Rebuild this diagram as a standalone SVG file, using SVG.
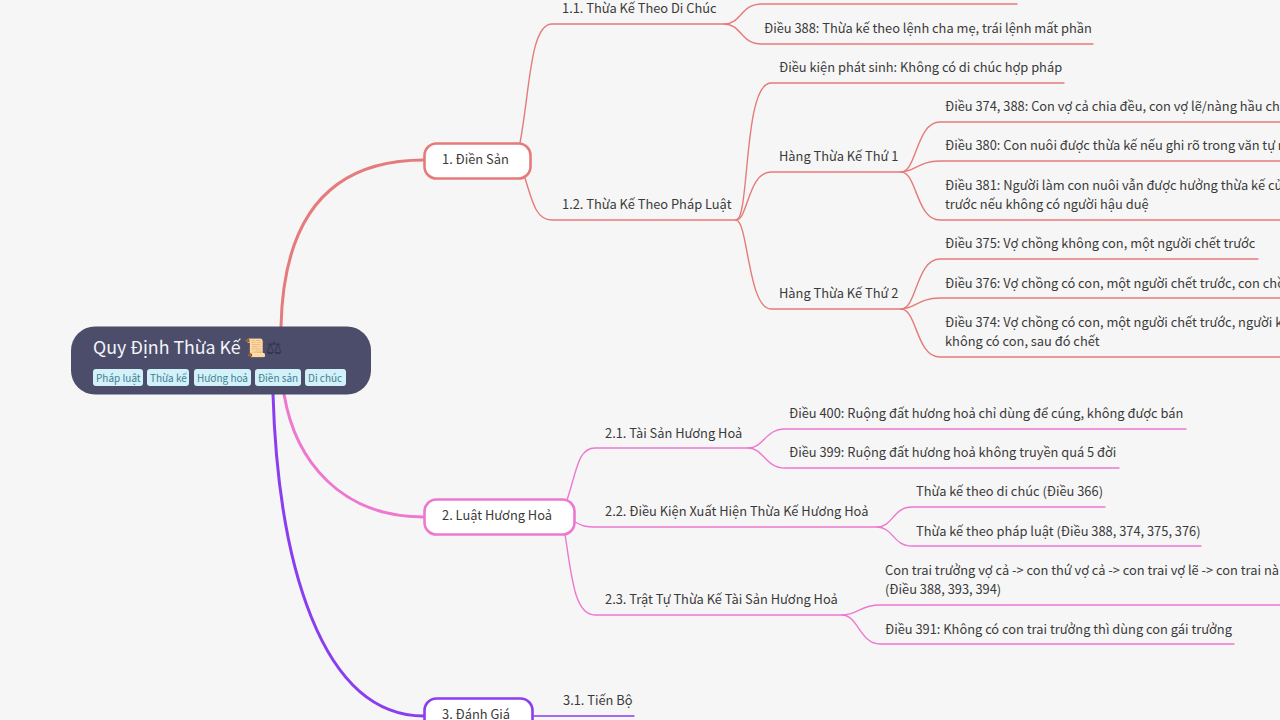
<svg xmlns="http://www.w3.org/2000/svg" width="1280" height="720" viewBox="0 0 1280 720">
<style>
text{font-family:"Noto Sans CJK SC","Noto Sans",sans-serif;font-size:12.85px;fill:#3a3a3a}
.c{fill:none;stroke-linecap:round}
.r{stroke:#e57b7b}.p{stroke:#ee78d0}.v{stroke:#8b3df0}
.t{stroke-width:3}.b{stroke-width:1.4}
.n{fill:#fff;stroke-width:2.600}
.tag{fill:#d3f1f8}
.tt{font-size:10px;fill:#3f7f95}
</style>
<rect width="1280" height="720" fill="#f6f6f6"/>
<g id="connectors">
<path class="c r t" d="M281 327C283 230 320 160 424 160"/>
<path class="c p t" d="M284 394C295 460 340 517 424 517"/>
<path class="c v t" d="M273 394C278 560 320 716 424 716"/>
<g class="c r b">
<path d="M520 143C530 90 530 24 552 24H724C742 24 740 4 762 4H1017"/>
<path d="M724 24C742 24 740 44 762 44H1093"/>
<path d="M525 178C533 205 537 220 552 220H736C750 220 743 83 771 83H1064"/>
<path d="M736 220C748 220 748 172 771 172H901"/>
<path d="M736 220C748 220 748 309 771 309H901"/>
<path d="M901 172C917 172 916 122 940 122H1280"/>
<path d="M901 172C915 172 918 161 940 161H1280"/>
<path d="M901 172C917 172 916 220 940 220H1280"/>
<path d="M901 309C917 309 916 259 940 259H1258"/>
<path d="M901 309C915 309 918 298 940 298H1280"/>
<path d="M901 309C917 309 916 357 940 357H1280"/>
</g>
<g class="c p b">
<path d="M567 500C577 470 578 448 595 448H748C764 448 765 429 785 429H1186"/>
<path d="M748 448C764 448 765 468 785 468H1119"/>
<path d="M575 522C582 526 586 527 595 527H877C893 527 893 507 912 507H1105"/>
<path d="M877 527C893 527 893 546 912 546H1201"/>
<path d="M565 534C572 580 575 615 595 615H842C858 615 860 605 880 605H1280"/>
<path d="M842 615C858 615 860 644 880 644H1234"/>
</g>
<path class="c v b" d="M533 716H634"/>
</g>
<g id="root">
<rect x="71" y="326.500" width="300" height="68" rx="24" fill="#4b4d6b"/>
<text x="93" y="354" style="font-size:17.800px;fill:#f4f4f8">Quy Định Thừa Kế <tspan dx="-1" style="fill:#33334a">📜⚖</tspan></text>
<rect class="tag" x="93" y="369" width="50" height="17" rx="3"/><text class="tt" x="96" y="382">Pháp luật</text>
<rect class="tag" x="147" y="369" width="42" height="17" rx="3"/><text class="tt" x="150" y="382">Thừa kế</text>
<rect class="tag" x="194" y="369" width="57" height="17" rx="3"/><text class="tt" x="197" y="382">Hương hoả</text>
<rect class="tag" x="255" y="369" width="46" height="17" rx="3"/><text class="tt" x="258" y="382">Điền sản</text>
<rect class="tag" x="305" y="369" width="41" height="17" rx="3"/><text class="tt" x="308" y="382">Di chúc</text>
</g>
<g id="n1"><rect class="n r" x="424.500" y="143.500" width="106" height="35" rx="12"/><text x="442" y="164">1. Điền Sản</text></g>
<g id="n2"><rect class="n p" x="424.500" y="499.500" width="150" height="35" rx="12"/><text x="442" y="520">2. Luật Hương Hoả</text></g>
<g id="n3"><rect class="n v" x="424.500" y="698.500" width="108" height="35" rx="12"/><text x="442" y="719">3. Đánh Giá</text></g>
<g id="n11"><text x="562" y="13">1.1. Thừa Kế Theo Di Chúc</text></g>
<g id="n112"><text x="764" y="33">Điều 388: Thừa kế theo lệnh cha mẹ, trái lệnh mất phần</text></g>
<g id="n12"><text x="562" y="209">1.2. Thừa Kế Theo Pháp Luật</text></g>
<g id="n121"><text x="779" y="72">Điều kiện phát sinh: Không có di chúc hợp pháp</text></g>
<g id="n122"><text x="779" y="161">Hàng Thừa Kế Thứ 1</text></g>
<g id="n123"><text x="779" y="298">Hàng Thừa Kế Thứ 2</text></g>
<g id="n1221"><text x="945" y="111">Điều 374, 388: Con vợ cả chia đều, con vợ lẽ/nàng hầu ch</text></g>
<g id="n1222"><text x="945" y="150">Điều 380: Con nuôi được thừa kế nếu ghi rõ trong văn tự n</text></g>
<g id="n1223"><text x="945" y="190">Điều 381: Người làm con nuôi vẫn được hưởng thừa kế củ</text><text x="945" y="209">trước nếu không có người hậu duệ</text></g>
<g id="n1231"><text x="945" y="248">Điều 375: Vợ chồng không con, một người chết trước</text></g>
<g id="n1232"><text x="945" y="288">Điều 376: Vợ chồng có con, một người chết trước, con chồ</text></g>
<g id="n1233"><text x="945" y="327">Điều 374: Vợ chồng có con, một người chết trước, người k</text><text x="945" y="346">không có con, sau đó chết</text></g>
<g id="n21"><text x="605" y="438">2.1. Tài Sản Hương Hoả</text></g>
<g id="n211"><text x="789" y="418">Điều 400: Ruộng đất hương hoả chỉ dùng để cúng, không được bán</text></g>
<g id="n212"><text x="789" y="457">Điều 399: Ruộng đất hương hoả không truyền quá 5 đời</text></g>
<g id="n22"><text x="605" y="516">2.2. Điều Kiện Xuất Hiện Thừa Kế Hương Hoả</text></g>
<g id="n221"><text x="916" y="496">Thừa kế theo di chúc (Điều 366)</text></g>
<g id="n222"><text x="916" y="536">Thừa kế theo pháp luật (Điều 388, 374, 375, 376)</text></g>
<g id="n23"><text x="605" y="604">2.3. Trật Tự Thừa Kế Tài Sản Hương Hoả</text></g>
<g id="n231"><text x="885" y="575">Con trai trưởng vợ cả -&gt; con thứ vợ cả -&gt; con trai vợ lẽ -&gt; con trai nà</text><text x="885" y="594">(Điều 388, 393, 394)</text></g>
<g id="n232"><text x="885" y="634">Điều 391: Không có con trai trưởng thì dùng con gái trưởng</text></g>
<g id="n31"><text x="563" y="705">3.1. Tiến Bộ</text></g>
</svg>
